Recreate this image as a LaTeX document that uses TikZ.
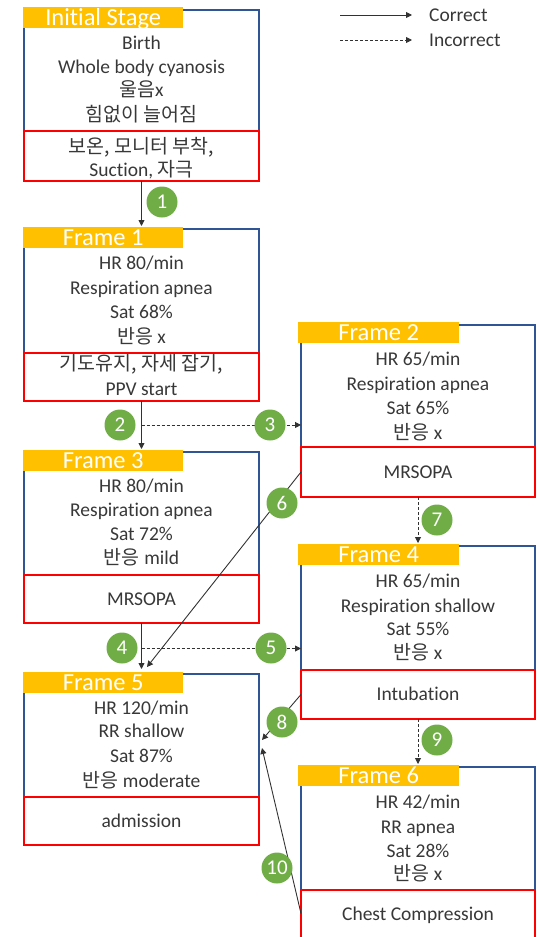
\documentclass[tikz,border=0pt]{standalone}
\usepackage{fontspec}
\setmainfont{Carlito}[Ligatures=NoCommon]
\newfontfamily\kr{Noto Sans CJK KR}
\usetikzlibrary{arrows.meta,calc}
\definecolor{fblue}{RGB}{47,85,151}
\definecolor{fred}{RGB}{255,0,0}
\definecolor{forange}{RGB}{255,192,0}
\definecolor{fgreen}{RGB}{112,173,71}
\definecolor{ftext}{RGB}{56,56,56}
\definecolor{fline}{RGB}{50,50,50}
\begin{document}
\begin{tikzpicture}[x=1pt,y=-1pt,
 bbox/.style={draw=fblue,line width=2pt,minimum width=235pt,inner sep=0pt,outer sep=0pt,anchor=north west},
 rbox/.style={draw=fred,fill=white,line width=2.4pt,minimum width=235pt,inner sep=0pt,outer sep=0pt,anchor=north west},
 ttl/.style={fill=forange,minimum height=20.5pt,inner sep=0pt,text=white,font=\fontsize{24.5}{26}\selectfont,text depth=0pt,anchor=north west},
 ln/.style={inner sep=0pt,text=ftext,font=\fontsize{19.5}{22}\selectfont,anchor=base},
 cor/.style={draw=fline,line width=0.9pt,-{Triangle[length=6pt,width=6pt]}},
 inc/.style={cor,dash pattern=on 3pt off 2pt},
 num/.style={circle,fill=fgreen,minimum size=31pt,inner sep=0pt,text=white,font=\fontsize{21}{22}\selectfont}]
\useasboundingbox (0,0) rectangle (536,937);
\clip (0,0) rectangle (536,937);
% blue frames
\node[bbox,minimum height=121pt] (i) at (24,10) {};
\node[bbox,minimum height=124pt] (f1) at (24,229) {};
\node[bbox,minimum height=123pt] (f3) at (24,452) {};
\node[bbox,minimum height=123pt] (f5) at (24,674) {};
\node[bbox,minimum width=234pt,minimum height=122pt] (f2) at (301,325) {};
\node[bbox,minimum width=234pt,minimum height=124pt] (f4) at (301,546) {};
\node[bbox,minimum width=234pt,minimum height=123pt] (f6) at (301,767) {};
% red action boxes
\node[rbox,minimum height=50pt] (ia) at (24,131) {};
\node[rbox,minimum height=48pt] (f1a) at (24,353) {};
\node[rbox,minimum height=48pt] (f3a) at (24,575) {};
\node[rbox,minimum height=48pt] (f5a) at (24,797) {};
\node[rbox,minimum width=234pt,minimum height=50pt] (f2a) at (301,447) {};
\node[rbox,minimum width=234pt,minimum height=49pt] (f4a) at (301,670) {};
\node[rbox,minimum width=234pt,minimum height=55pt] (f6a) at (301,890) {};
% titles
\node[ttl,minimum width=160pt] (it) at (23,7) {Initial Stage};
\node[ttl,minimum width=160pt] (f1t) at (23,227) {Frame 1};
\node[ttl,minimum width=160pt] (f3t) at (23,450) {Frame 3};
\node[ttl,minimum width=160pt] (f5t) at (23,672) {Frame 5};
\node[ttl,minimum width=161pt] (f2t) at (298,322) {Frame 2};
\node[ttl,minimum width=161pt] (f4t) at (298,544) {Frame 4};
\node[ttl,minimum width=161pt] (f6t) at (298,765) {Frame 6};
% texts: initial stage
\node[ln] (i1) at (141.5,49) {Birth};
\node[ln] (i2) at (141.5,73) {Whole body cyanosis};
\node[ln] (i3) at (141.5,96) {{\kr 울음}x};
\node[ln] (i4) at (141.5,121) {\kr 힘없이 늘어짐};
\node[ln] (i5) at (141.5,153) {\kr 보온, 모니터 부착,};
\node[ln] (i6) at (141.5,176) {Suction, {\kr 자극}};
% frame 1
\node[ln] (a1) at (141.5,269) {HR 80/min};
\node[ln] (a2) at (141.5,294) {Respiration apnea};
\node[ln] (a3) at (141.5,318) {Sat 68\%};
\node[ln] (a4) at (141.5,343) {{\kr 반응} x};
\node[ln] (a5) at (141.5,370) {\kr 기도유지, 자세 잡기,};
\node[ln] (a6) at (141.5,395) {PPV start};
% frame 2
\node[ln] (b1) at (418,365) {HR 65/min};
\node[ln] (b2) at (418,390) {Respiration apnea};
\node[ln] (b3) at (418,414) {Sat 65\%};
\node[ln] (b4) at (418,439) {{\kr 반응} x};
\node[ln] (b5) at (418,478) {MRSOPA};
% frame 3
\node[ln] (c1) at (141.5,492) {HR 80/min};
\node[ln] (c2) at (141.5,516) {Respiration apnea};
\node[ln] (c3) at (141.5,540) {Sat 72\%};
\node[ln] (c4) at (141.5,564) {{\kr 반응} mild};
\node[ln] (c5) at (141.5,605) {MRSOPA};
% frame 4
\node[ln] (d1) at (418,587) {HR 65/min};
\node[ln] (d2) at (418,612) {Respiration shallow};
\node[ln] (d3) at (418,635) {Sat 55\%};
\node[ln] (d4) at (418,659) {{\kr 반응} x};
\node[ln] (d5) at (418,700) {Intubation};
% frame 5
\node[ln] (e1) at (141.5,714) {HR 120/min};
\node[ln] (e2) at (141.5,737) {RR shallow};
\node[ln] (e3) at (141.5,762) {Sat 87\%};
\node[ln] (e4) at (141.5,787) {{\kr 반응} moderate};
\node[ln] (e5) at (141.5,827) {admission};
% frame 6
\node[ln] (g1) at (418,808) {HR 42/min};
\node[ln] (g2) at (418,833) {RR apnea};
\node[ln] (g3) at (418,857) {Sat 28\%};
\node[ln] (g4) at (418,880) {{\kr 반응} x};
\node[ln] (g5) at (418,920) {Chest Compression};
% legend
\coordinate (la) at (340,15);
\coordinate (lb) at (412,15);
\coordinate (lc) at (340,40);
\coordinate (ld) at (412,40);
\draw[cor] (la) -- (lb);
\draw[inc] (lc) -- (ld);
\node[ln,anchor=base west] (lcor) at (429,21) {Correct};
\node[ln,anchor=base west] (linc) at (429,46) {Incorrect};
% connectors
\draw[cor] (ia.south) -- ([yshift=3pt]f1.north);
\draw[cor] (f1a.south) -- ([yshift=3pt]f3.north);
\coordinate (m2) at ($(f1a.south)!0.47!(f3.north)$);
\draw[inc] (m2) -- (m2 -| f2.west);
\draw[cor] (f3a.south) -- ([yshift=5pt]f5.north);
\coordinate (m4) at ($(f3a.south)!0.5!(f5.north)$);
\draw[inc] (m4) -- (m4 -| f4.west);
\draw[cor] (f2a.west) -- ($(f5.north)+(5.5,-7)$);
\draw[inc] (f2a.south) -- ([yshift=3pt]f4.north);
\draw[cor] (f4a.west) -- ($(f5.east)+(3,4.5)$);
\draw[inc] (f4a.south) -- ([yshift=3pt]f6.north);
\draw[cor] ($(f6a.west)+(0,-4)$) -- ($(f5.east)+(3,12.5)$);
% step numbers
\node[num] (n1) at (162,202) {1};
\node[num] (n2) at (120,425) {2};
\node[num] (n3) at (270,425) {3};
\node[num] (n4) at (122,648) {4};
\node[num] (n5) at (271,648) {5};
\node[num] (n6) at (282,503) {6};
\node[num] (n7) at (437,520) {7};
\node[num] (n8) at (282,722) {8};
\node[num] (n9) at (437,740) {9};
\node[num] (n10) at (277,868) {10};
\end{tikzpicture}
\end{document}
